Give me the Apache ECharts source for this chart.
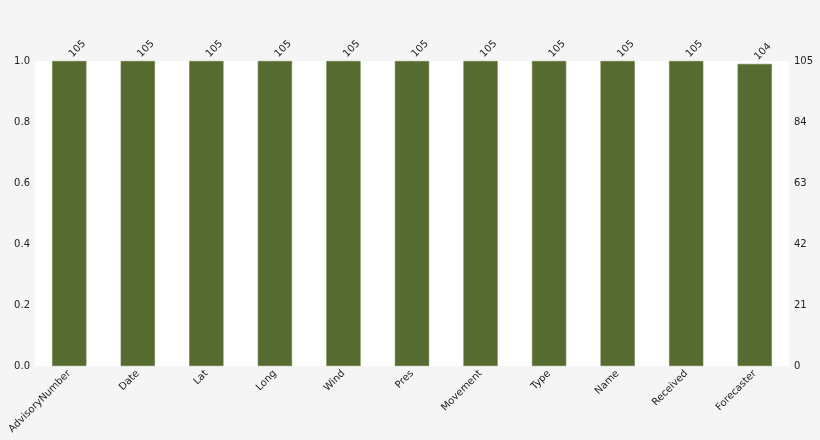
<!DOCTYPE html>
<html><head><meta charset="utf-8">
<script src="https://cdn.jsdelivr.net/npm/echarts@6/dist/echarts.min.js"></script>
<style>html,body{margin:0;padding:0;background:#f5f5f5;}#c{width:820px;height:440px;}</style>
</head><body><div id="c"></div>
<script>
var categories = ['AdvisoryNumber','Date','Lat','Long','Wind','Pres','Movement','Type','Name','Received','Forecaster'];
var counts = [105,105,105,105,105,105,105,105,105,105,104];
var totalRows = 105;
var leftTicks = [0,0.2,0.4,0.6,0.8,1.0];
var rightTicks = [0,21,42,63,84,105];

var chart = echarts.init(document.getElementById('c'));
chart.setOption({
  backgroundColor: '#f5f5f5',
  animation: false,
  textStyle: {fontFamily: 'DejaVu Sans'},
  grid: {left: 35, right: 31, top: 61, bottom: 74, show: true, backgroundColor: '#ffffff', borderWidth: 0},
  xAxis: {
    type: 'category', data: categories,
    axisLine: {show: false}, axisTick: {show: false},
    axisLabel: {rotate: 45, fontSize: 10, color: '#222', margin: 6, interval: 0}
  },
  yAxis: [{
    type: 'value', min: 0, max: 1, interval: 0.2, position: 'left',
    splitLine: {show: false}, axisLine: {show: false}, axisTick: {show: false},
    axisLabel: {fontSize: 10, color: '#222', margin: 5, formatter: function(v){return v.toFixed(1);}}
  },{
    type: 'value', min: 0, max: totalRows, interval: 21, position: 'right',
    splitLine: {show: false}, axisLine: {show: false}, axisTick: {show: false},
    axisLabel: {fontSize: 10, color: '#222', margin: 5}
  }],
  series: [{
    type: 'bar', yAxisIndex: 1, data: counts, barWidth: '50%',
    itemStyle: {color: '#556b2f', borderColor: '#6b8245', borderWidth: 0.6},
    label: {show: true, position: 'top', rotate: 45, align: 'left', verticalAlign: 'middle',
      fontSize: 10, color: '#222', distance: 4, offset: [2, 0]}
  }]
});
</script></body></html>
